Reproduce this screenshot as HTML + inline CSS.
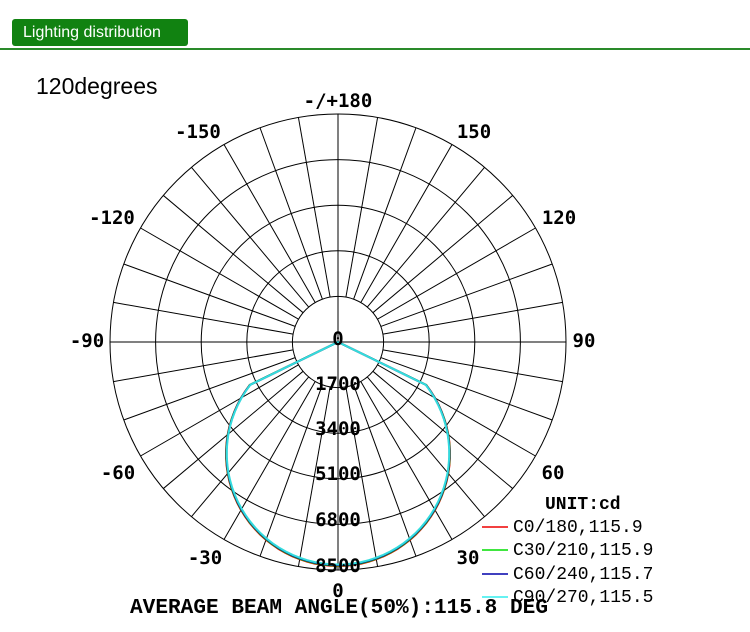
<!DOCTYPE html>
<html><head><meta charset="utf-8"><style>
body{margin:0;background:#fff;width:750px;height:632px;overflow:hidden;position:relative;font-family:"Liberation Sans",sans-serif}
.hdr{position:absolute;left:12px;top:19px;width:176px;height:27px;background:#118211;border-radius:3px;color:#fff;font-size:16px;line-height:27px;text-indent:11px}
.line{position:absolute;left:0;top:48px;width:750px;height:2px;background:#2a8a2a}
.t{position:absolute;left:36px;top:73px;font-size:23px;color:#000}
svg{position:absolute;left:0;top:0}
</style></head><body>
<div class="hdr">Lighting distribution</div>
<div class="line"></div>
<div class="t">120degrees</div>
<svg width="750" height="632" viewBox="0 0 750 632">
<g stroke="#000" stroke-width="1" fill="none" id="grid"></g>
<g id="curves" fill="none"></g>
<g font-family="'DejaVu Sans Mono','Liberation Mono',monospace" font-size="19" font-weight="bold" fill="#000" text-anchor="middle">
<text x="338" y="107">-/+180</text>
<text x="198" y="138">-150</text><text x="474" y="138">150</text>
<text x="112" y="224">-120</text><text x="559" y="224">120</text>
<text x="87" y="347">-90</text><text x="584" y="347">90</text>
<text x="118" y="479">-60</text><text x="553" y="479">60</text>
<text x="205" y="564">-30</text><text x="468" y="564">30</text>
<text x="338" y="597">0</text>
<text x="338" y="345">0</text>
<text x="338" y="390">1700</text>
<text x="338" y="435">3400</text>
<text x="338" y="480">5100</text>
<text x="338" y="526">6800</text>
<text x="338" y="572">8500</text>
</g>
<g font-family="'Liberation Mono',monospace" font-weight="bold" font-size="21" fill="#000">
<text x="130" y="613" textLength="418" lengthAdjust="spacingAndGlyphs">AVERAGE BEAM ANGLE(50%):115.8 DEG</text>
<text x="545" y="509" font-size="18">UNIT:cd</text>
</g>
<g font-family="'Liberation Mono',monospace" font-size="18" fill="#000">
<text x="513" y="532">C0/180,115.9</text>
<text x="513" y="555">C30/210,115.9</text>
<text x="513" y="579">C60/240,115.7</text>
<text x="513" y="602">C90/270,115.5</text>
</g>
<g stroke-width="1.5">
<line x1="482" y1="527" x2="508" y2="527" stroke="#e00"/>
<line x1="482" y1="550" x2="508" y2="550" stroke="#0d0"/>
<line x1="482" y1="574" x2="508" y2="574" stroke="#00a"/>
<line x1="482" y1="597" x2="508" y2="597" stroke="#3ee"/>
</g>
</svg>
<script>
var cx=338,cy=342,R=228,ns="http://www.w3.org/2000/svg";
var g=document.getElementById('grid');
function el(n,a,p){var e=document.createElementNS(ns,n);for(var k in a)e.setAttribute(k,a[k]);p.appendChild(e);return e;}
for(var i=1;i<=5;i++)el('circle',{cx:cx,cy:cy,r:R*i/5},g);
for(var a=0;a<360;a+=10){var t=a*Math.PI/180;var r0=(a%90==0)?0:R/5;
el('line',{x1:cx+r0*Math.sin(t),y1:cy+r0*Math.cos(t),x2:cx+R*Math.sin(t),y2:cy+R*Math.cos(t)},g);}
var c=document.getElementById('curves');
var cols=['#e00','#0c0','#00a','#3dd'];
for(var k=0;k<4;k++){var pts=[];
for(var d=-90;d<=90;d+=2){var t=d*Math.PI/180;var r=Math.max(0,(224-k*0.5)*Math.cos(t));
if(Math.abs(d)>64)r=0;pts.push((cx+r*Math.sin(t)).toFixed(1)+','+(cy+r*Math.cos(t)).toFixed(1));}
el('polyline',{points:pts.join(' '),stroke:cols[k],'stroke-width':2},c);}
</script>
</body></html>
